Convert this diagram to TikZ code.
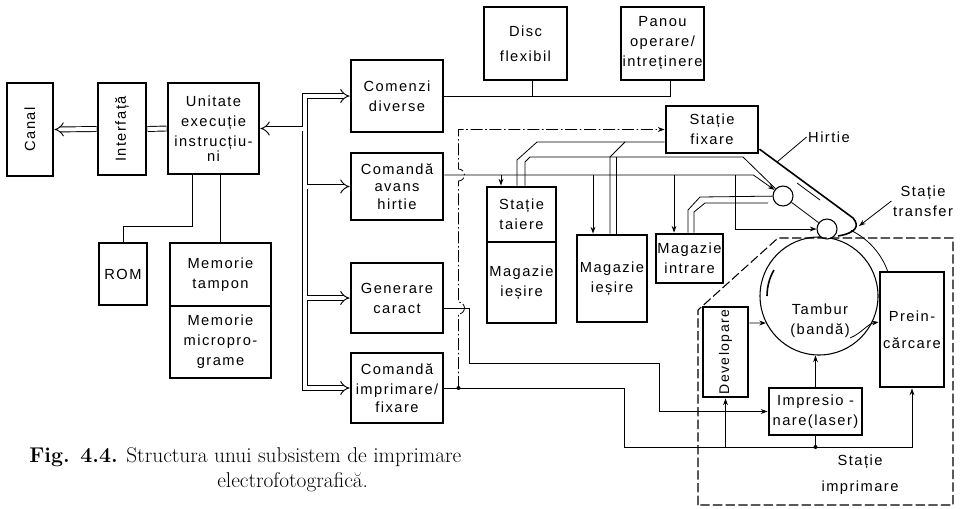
\documentclass[tikz,border=0pt]{standalone}
\usepackage{fontspec}
\usepackage{tikz}
\usetikzlibrary{arrows.meta}
\newfontfamily\lab[LetterSpace=10]{Liberation Sans}
\newcommand\labfont{\lab\fontsize{11}{15}\selectfont}

\begin{document}
\begin{tikzpicture}[x=0.75pt,y=-0.75pt,
 blk/.style={draw,line width=2.2pt,inner sep=1pt,align=center,font=\labfont},
 txt/.style={align=center,font=\labfont,inner sep=1pt},
 ln/.style={line width=0.6pt},
 arr/.style={line width=0.6pt,-{Stealth[length=5pt,width=3.6pt]}},
 bus/.style={double,double distance=3pt,line width=0.7pt},
 ctl/.style={line width=0.6pt,dash pattern=on 9pt off 2pt on 1.2pt off 2pt},
 bound/.style={line width=0.8pt,dash pattern=on 7pt off 2.5pt},
 roll/.style={circle,draw,fill=white,line width=0.8pt,minimum size=15pt,inner sep=0pt}]
\useasboundingbox (0,0) rectangle (963,508);
\node[blk,minimum width=34.5pt,minimum height=69.75pt] (canal) at (30,129.5) {\rotatebox{90}{Canal}};
\node[blk,minimum width=36pt,minimum height=69pt] (intf) at (122,129) {\rotatebox{90}{Interfață}};
\node[blk,minimum width=68.25pt,minimum height=68.25pt] (uei) at (213.5,128.5) {Unitate\\execuție\\instrucțiu-\\[-4pt]ni};
\node[blk,minimum width=36pt,minimum height=46.5pt] (rom) at (123,274) {ROM};
\node[blk,minimum width=75.75pt,minimum height=47.25pt] (mtamp) at (220.5,274.5) {Memorie\\tampon};
\node[blk,minimum width=75.75pt,minimum height=54pt] (mmicro) at (220.5,342) {Memorie\\micropro-\\grame};
\node[blk,minimum width=69pt,minimum height=54pt] (comenzi) at (397,96) {Comenzi\\diverse};
\node[blk,minimum width=69pt,minimum height=50.25pt] (avans) at (397,186.5) {Comandă\\[-2pt]avans\\[-2pt]hirtie};
\node[blk,minimum width=69pt,minimum height=52.5pt] (gener) at (397,298) {Generare\\caract};
\node[blk,minimum width=69pt,minimum height=52.5pt] (cimpr) at (397,388) {Comandă\\imprimare/\\[-2pt]fixare};
\node[blk,minimum width=62.25pt,minimum height=54.75pt] (disc) at (525.5,43.5) {Disc\\[4pt]flexibil};
\node[blk,minimum width=62.25pt,minimum height=54.75pt] (panou) at (662.5,43.5) {Panou\\operare/\\intreținere};
\node[blk,minimum width=69pt,minimum height=35.25pt] (sfix) at (712,129.5) {Stație\\fixare};
\node[blk,minimum width=51.75pt,minimum height=41.25pt] (staiere) at (521.5,214.5) {Stație\\taiere};
\node[blk,minimum width=51.75pt,minimum height=60.75pt] (mies1) at (521.5,282.5) {Magazie\\ieșire};
\node[blk,minimum width=52.5pt,minimum height=65.25pt] (mies2) at (612,278.5) {Magazie\\ieșire};
\node[blk,minimum width=50.25pt,minimum height=36.75pt] (mintr) at (689.5,258.5) {Magazie\\intrare};
\node[circle,draw,line width=0.8pt,minimum size=88.5pt] (tambur) at (819,296) {};
\node[txt] (tlbl) at (820,321) {Tambur\\(bandă)};
\node[blk,minimum width=33.75pt,minimum height=67.5pt,font=\lab\fontsize{10.5}{15}\selectfont] (devel) at (725.5,352) {\rotatebox{90}{Developare}};
\node[blk,minimum width=48pt,minimum height=86.25pt] (preinc) at (912,329.5) {Prein-\\[5pt]cărcare};
\node[blk,minimum width=69.75pt,minimum height=35.25pt] (impr) at (815.5,411.5) {Impresio -\\nare(laser)};
\node[roll] (roll1) at (783,196) {};
\node[roll] (roll2) at (827,229) {};
\node[txt] (hirt) at (829,137) {Hirtie};
\node[txt] (strans) at (923,201) {Stație\\transfer};
\node[txt,font=\labfont\fontsize{11}{19.5}\selectfont] (simpr) at (860,475) {Stație\\imprimare};
\node[anchor=base west,align=left,inner sep=0pt,font=\fontsize{16}{18.75}\selectfont] (cap) at (29,487)
 {\textbf{Fig. 4.4.} Structura unui subsistem de imprimare\\\hspace*{141pt}electrofotografică.};
\coordinate (bx) at (305,129);
\coordinate (hpt) at (777,162);
\coordinate (tpt) at (859,226);
\draw[bus] ([xshift=-9pt]comenzi.west) -| (bx |- cimpr.west) -- ([xshift=-9pt]cimpr.west)
 ([xshift=9pt]uei.east) -- (bx |- uei.east)
 (bx |- avans.west) -- ([xshift=-9pt]avans.west)
 (bx |- gener.west) -- ([xshift=-9pt]gener.west);
\foreach \n in {comenzi,avans,gener,cimpr} {\draw[bus,-Implies] ([xshift=-11pt]\n.west) -- (\n.west);}
\draw[bus,-Implies] ([xshift=11pt]uei.east) -- (uei.east);
\draw[bus,-Implies] (intf.west) -- (canal.east);
\draw[bus] (intf.east) -- (uei.west);
\draw[ln] ([xshift=-16.1pt]uei.south) -- ++(0,51) -| (rom.north);
\draw[ln] (mtamp.north) -- (mtamp.north |- uei.south);
\draw[ln] (comenzi.east) -| ([xshift=5.6pt]panou.south);
\draw[ln] ([xshift=4.9pt]disc.south) -- ([xshift=4.9pt]disc.south |- comenzi.east);
\draw[arr] ([yshift=8.6pt]avans.east) coordinate (av) -- ++(309,0) -- (roll1);
\draw[arr] ([xshift=-15.4pt]staiere.north |- av) -- ([xshift=-15.4pt]staiere.north);
\draw[arr] ([xshift=-14.25pt]mies2.north |- av) -- ([xshift=-14.25pt]mies2.north);
\draw[arr] ([xshift=-11.6pt]mintr.north |- av) -- ([xshift=-11.6pt]mintr.north);
\draw[arr] ([xshift=17.25pt]sfix.south |- av) |- (roll2);
\draw[ln] ([yshift=-9.4pt]sfix.west) -- (537,142) -- (517,160) -- ([xshift=-3.4pt]staiere.north);
\draw[ln] ([xshift=2.6pt]staiere.north) -- (525,162) -- (530,157) -- (743,157) -- (roll1);
\draw[ln] (roll1) -- (roll2);
\draw[ln] (625,142) -- (610,157) -- ([xshift=-1.5pt]mies2.north);
\draw[ln] (616,157) -- ([xshift=3pt]mies2.north);
\draw[ln] ([xshift=-1.1pt]mintr.north) -- (688,210) -- (700,197) -- (roll1);
\draw[ln] ([xshift=3.4pt]mintr.north) -- (694,212) -- (705,203) -- (768,203);
\draw[line width=1.2pt] ([yshift=4pt]sfix.south east) -- (853,218) .. controls (860,226) and (856,233) .. (838,236);
\draw[ln] (797,183) -- (820,200);
\draw[ln] (hpt) -- (hirt.west);
\draw[arr] (strans.west) -- (tpt);
\draw[ln] (tambur.center) ++(-64:73) arc (-64:-19:73);
\draw[line width=1.2pt] (tambur.center) ++(180:52) arc (180:210:52);
\draw[arr] (850,338) .. controls (862,333) and (867,324) .. ([yshift=5.6pt]preinc.west);
\draw[arr] ([yshift=21.75pt]devel.east) -- (tambur.207);
\draw[arr] (impr.north) -- (impr.north |- tambur.south);
\draw[arr] ([yshift=-7.5pt]gener.east) -- ++(25,0) -- ++(0,55) -- ++(190,0) |- (impr.west);
\draw[arr] (cimpr.east) -- ++(180,0) -- ++(0,59) coordinate (pb) -| (preinc.south);
\draw[arr] (devel.south |- pb) -- (devel.south);
\draw[ln] (impr.south) -- (impr.south |- pb);
\fill (impr.south |- pb) circle (2);
\draw[ctl,arr] ([xshift=10.5pt]cimpr.east) -- ++(0,-74) arc (90:-90:6) -- ++(0,-121) arc (90:-90:6) |- (sfix.west);
\fill ([xshift=10.5pt]cimpr.east) circle (2);
\draw[bound] (698,505) -- (698,310) -- (778,238) -- (953,238) -- (953,505) -- cycle;
\end{tikzpicture}
\end{document}
